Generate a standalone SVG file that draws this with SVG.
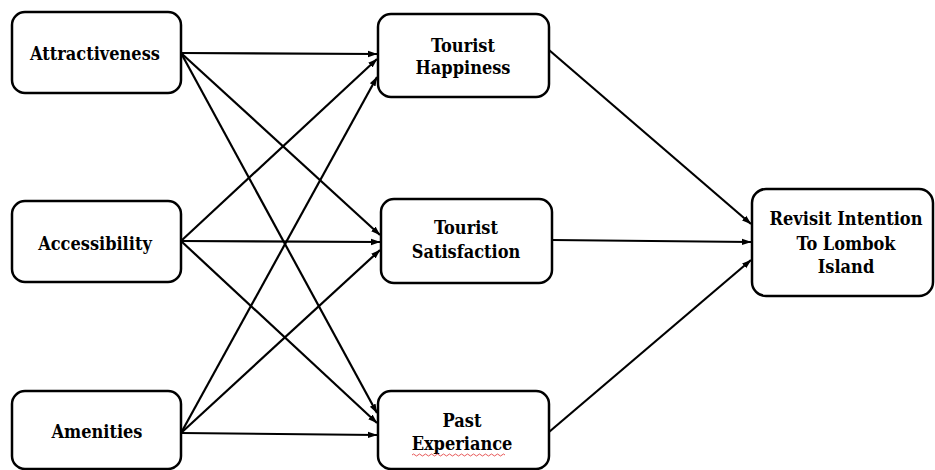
<svg xmlns="http://www.w3.org/2000/svg" width="935" height="470" viewBox="0 0 935 470">
<defs>
<marker id="ah" markerWidth="10" markerHeight="8" refX="9" refY="4" orient="auto" markerUnits="userSpaceOnUse">
<path d="M0,0.8 L9.5,4 L0,7.2 Z" fill="#000"/>
</marker>
<style>
.box{fill:#fff;stroke:#000;stroke-width:2.5}
.lbl{font-family:"DejaVu Serif Condensed","DejaVu Serif",serif;font-stretch:condensed;font-weight:bold;font-size:18px;fill:#000;text-anchor:middle}
.c{stroke:#000;stroke-width:2.2;fill:none;marker-end:url(#ah)}
</style>
</defs>
<rect width="935" height="470" fill="#fff"/>
<g id="connectors">
<line class="c" x1="181" y1="53" x2="377" y2="54"/>
<line class="c" x1="181" y1="53" x2="380" y2="235"/>
<line class="c" x1="181" y1="53" x2="377" y2="413"/>
<line class="c" x1="181" y1="241" x2="377" y2="59"/>
<line class="c" x1="181" y1="241" x2="380" y2="242"/>
<line class="c" x1="181" y1="241" x2="377" y2="423"/>
<line class="c" x1="181" y1="433" x2="377" y2="77"/>
<line class="c" x1="181" y1="433" x2="380" y2="250"/>
<line class="c" x1="181" y1="433" x2="377" y2="435"/>
<line class="c" x1="549" y1="50" x2="751" y2="224"/>
<line class="c" x1="552" y1="240" x2="751" y2="242"/>
<line class="c" x1="549" y1="432" x2="751" y2="260"/>
</g>
<g id="attractiveness">
<rect class="box" x="12" y="12" width="169" height="81" rx="13"/>
<text class="lbl" x="95" y="60">Attractiveness</text>
</g>
<g id="accessibility">
<rect class="box" x="12" y="201" width="169" height="81" rx="13"/>
<text class="lbl" x="95" y="250">Accessibility</text>
</g>
<g id="amenities">
<rect class="box" x="12" y="391" width="169" height="78" rx="13"/>
<text class="lbl" x="97" y="438">Amenities</text>
</g>
<g id="happiness">
<rect class="box" x="378" y="14" width="171" height="83" rx="13"/>
<text class="lbl" x="463" y="52">Tourist</text>
<text class="lbl" x="463" y="74">Happiness</text>
</g>
<g id="satisfaction">
<rect class="box" x="381" y="199" width="171" height="84" rx="13"/>
<text class="lbl" x="466" y="234">Tourist</text>
<text class="lbl" x="466" y="258">Satisfaction</text>
</g>
<g id="past">
<rect class="box" x="378" y="391" width="171" height="78" rx="13"/>
<text class="lbl" x="462" y="427">Past</text>
<text class="lbl" x="462" y="450">Experiance</text>
<path d="M412,455 q1.5,-2 3,0 t3,0 t3,0 t3,0 t3,0 t3,0 t3,0 t3,0 t3,0 t3,0 t3,0 t3,0 t3,0 t3,0 t3,0 t3,0 t3,0 t3,0 t3,0 t3,0 t3,0 t3,0 t3,0 t3,0 t3,0 t3,0 t3,0 t3,0 t3,0 t3,0 t3,0" fill="none" stroke="#e03030" stroke-width="0.8"/>
</g>
<g id="revisit">
<rect class="box" x="752" y="189" width="181" height="107" rx="14"/>
<text class="lbl" x="846" y="225">Revisit Intention</text>
<text class="lbl" x="846" y="250">To Lombok</text>
<text class="lbl" x="846" y="273">Island</text>
</g>
</svg>
